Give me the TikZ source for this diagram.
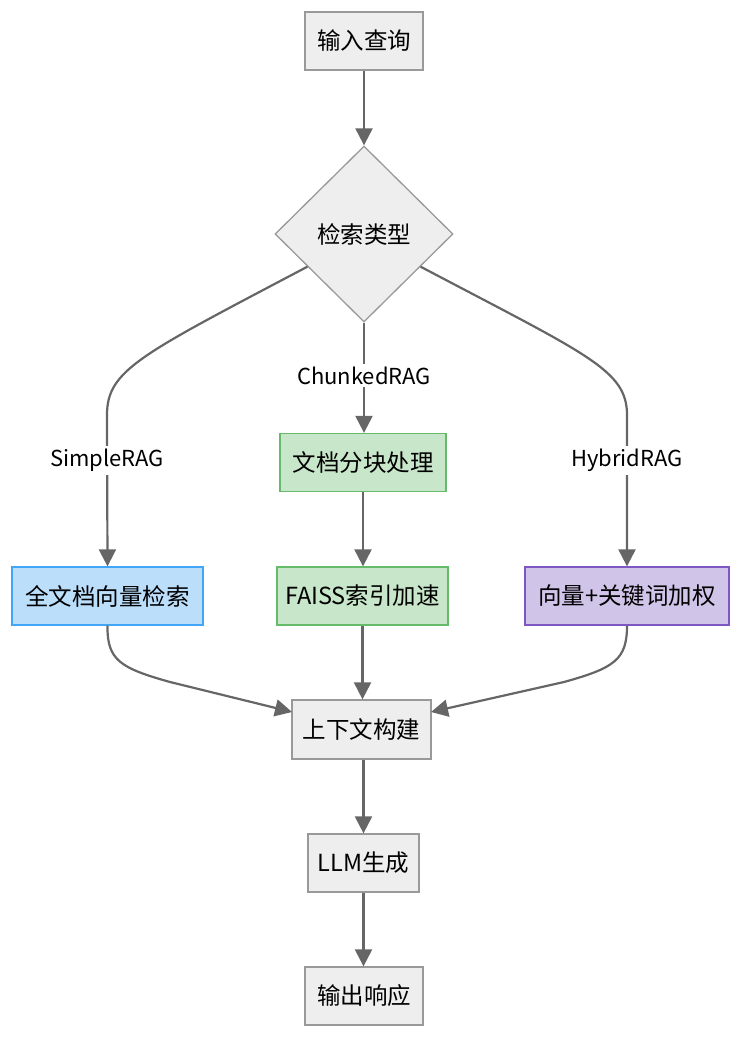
\documentclass[tikz,border=0pt]{standalone}
\usepackage{fontspec}
\setmainfont{Noto Sans CJK SC}
\usetikzlibrary{shapes.geometric,arrows.meta}
\definecolor{gfill}{HTML}{EEEEEE}
\definecolor{gline}{HTML}{999999}
\definecolor{bfill}{HTML}{BBDEFB}
\definecolor{bline}{HTML}{42A5F5}
\definecolor{grfill}{HTML}{C8E6C9}
\definecolor{grline}{HTML}{66BB6A}
\definecolor{pfill}{HTML}{D1C4E9}
\definecolor{pline}{HTML}{7E57C2}
\definecolor{edge}{HTML}{666666}
\tikzset{
  box/.style={rectangle, draw=gline, fill=gfill, line width=1.3pt, minimum height=58pt, inner sep=0pt, font=\fontsize{23.5}{28}\selectfont},
  bluebox/.style={box, draw=bline, fill=bfill},
  greenbox/.style={box, draw=grline, fill=grfill},
  purplebox/.style={box, draw=pline, fill=pfill},
  decide/.style={diamond, draw=gline, fill=gfill, line width=1.3pt, minimum width=178pt, minimum height=176pt, inner sep=0pt, font=\fontsize{23.5}{28}\selectfont},
  conn/.style={draw=edge, line width=2.2pt, -{Triangle[length=17pt,width=17pt]}},
  lab/.style={fill=white, inner sep=3pt, font=\fontsize{22}{26}\selectfont}
}
\begin{document}
\begin{tikzpicture}[x=1pt,y=-1pt]
\useasboundingbox (0,0) rectangle (740,1038);
\node[box, minimum width=118pt] (q) at (364,41) {输入查询};
\node[decide] (d) at (364,234) {检索类型};
\node[greenbox, minimum width=166pt] (chunk) at (363,462.5) {文档分块处理};
\node[bluebox, minimum width=191pt] (full) at (107.5,596) {全文档向量检索};
\node[greenbox, minimum width=171pt] (faiss) at (362.5,596) {FAISS索引加速};
\node[purplebox, minimum width=204pt] (hyb) at (627,596) {向量+关键词加权};
\node[box, minimum width=139pt, minimum height=59pt] (ctx) at (361.5,729.5) {上下文构建};
\node[box, minimum width=111pt] (llm) at (363.5,863) {LLM生成};
\node[box, minimum width=118pt] (out) at (364,996) {输出响应};

\coordinate (lbend) at (107,415);
\coordinate (rbend) at (627,415);
\coordinate (lin) at (292,712);
\coordinate (rin) at (431,712);

\draw[conn] (q) -- (d);
\draw[conn] (d.210) .. controls (140,355) and (107,370) .. (lbend) -- node[lab, pos=0.3]{SimpleRAG} (full.north);
\draw[conn] (d.south) -- node[lab, pos=0.48]{ChunkedRAG} (d.south |- chunk.north);
\draw[conn] (d.330) .. controls (588,355) and (627,370) .. (rbend) -- node[lab, pos=0.3]{HybridRAG} (hyb.north);
\draw[conn] (chunk.south) -- (chunk.south |- faiss.north);
\draw[conn] (full.south) .. controls (107,660) and (120,668) .. (170,682) -- (lin);
\draw[conn] (faiss.south) -- (faiss.south |- ctx.north);
\draw[conn] (hyb.south) .. controls (627,660) and (614,668) .. (564,682) -- (rin);
\draw[conn] (llm.north |- ctx.south) -- (llm.north);
\draw[conn] (llm.south) -- (llm.south |- out.north);
\end{tikzpicture}
\end{document}
